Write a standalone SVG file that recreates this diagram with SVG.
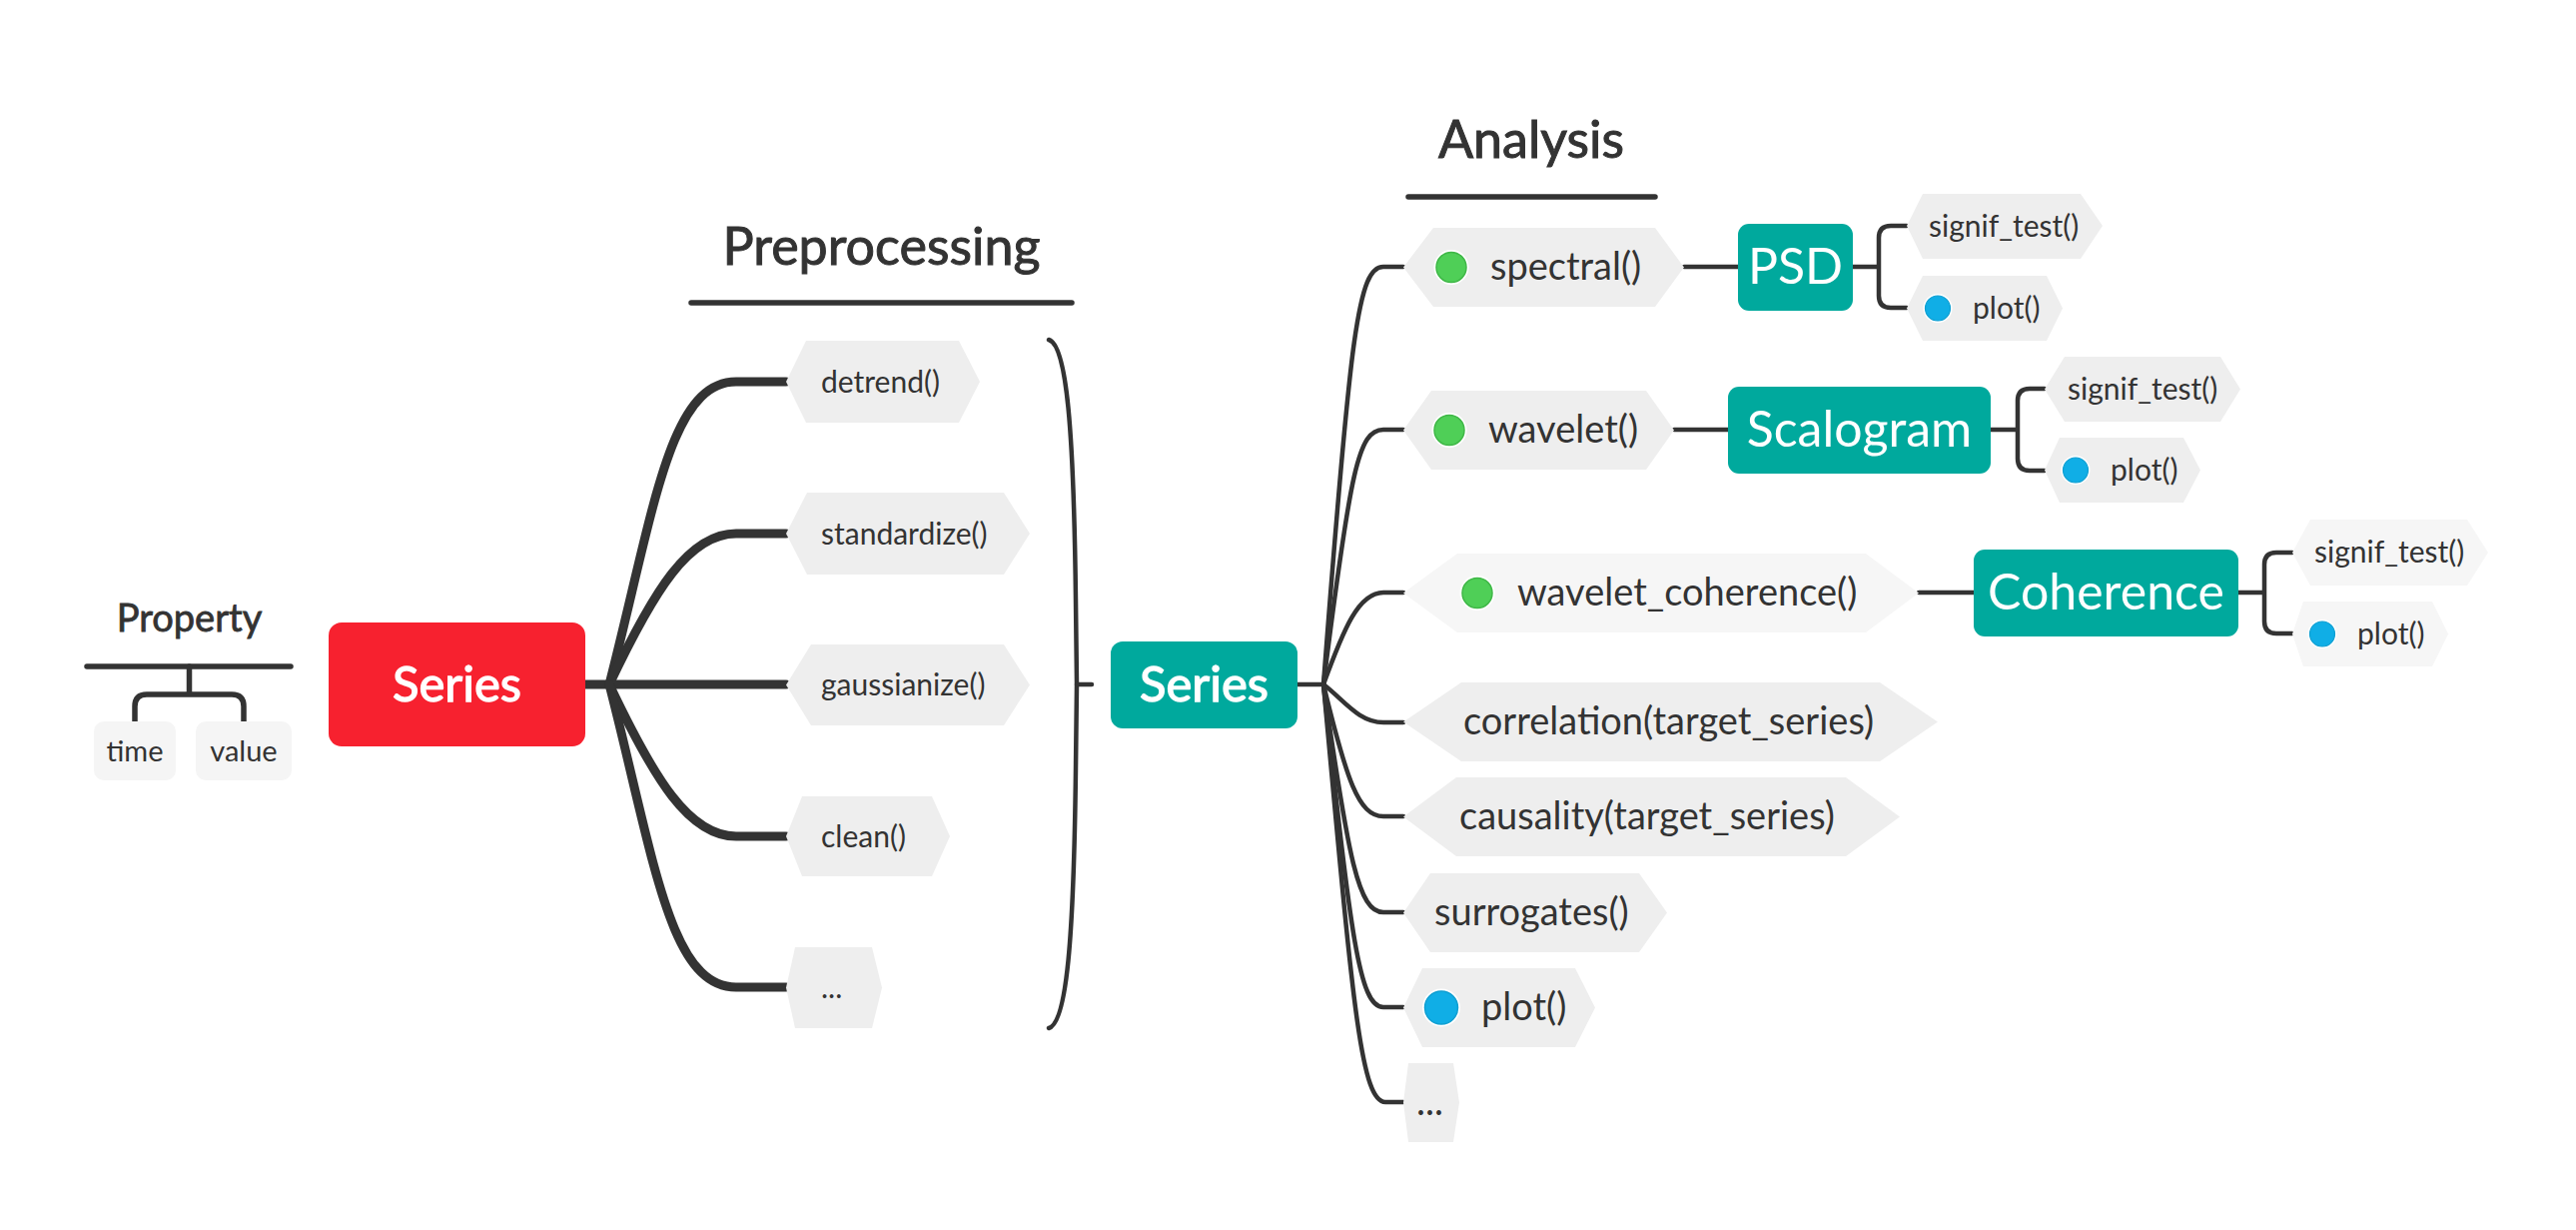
<svg xmlns="http://www.w3.org/2000/svg" width="2579" height="1231" viewBox="0 0 2579 1231">
<defs>
<style>
text{font-family:Lato,"Open Sans","Liberation Sans",sans-serif;fill:#333333;}
.title{font-size:52px;text-anchor:middle;stroke:#333333;stroke-width:1;}
.hex{fill:#eeeeee;}
.hexl{fill:#f6f6f6;}
.pre{font-size:30px;}
.ana{font-size:38px;}
.sub{font-size:30px;}
.box{fill:#00a99d;}
.boxt{font-size:50px;fill:#ffffff;text-anchor:middle;}
.sert{font-size:49px;fill:#ffffff;text-anchor:middle;stroke:#ffffff;stroke-width:1.3;}
.thick{fill:none;stroke:#333333;stroke-width:9;stroke-linecap:round;}
.thin{fill:none;stroke:#333333;stroke-width:4.5;stroke-linecap:round;}
.rule{fill:none;stroke:#333333;stroke-width:5.5;stroke-linecap:round;}
.prop{fill:#f5f5f5;}
</style>
</defs>
<rect width="2579" height="1231" fill="#ffffff"/>

<g id="connectors">
  <path class="rule" d="M87,667 L291,667"/>
  <path class="rule" d="M189.5,667 L189.5,695 M135,722 L135,707 Q135,695 147,695 L232,695 Q244,695 244,707 L244,722"/>
  <path class="thick" d="M586,685 L610,685"/>
  <path class="thick" d="M610,685 C655,510 670,382 737,382 L787,382"/>
  <path class="thick" d="M610,685 C655,590 690,534 737,534 L787,534"/>
  <path class="thick" d="M610,685 L787,685"/>
  <path class="thick" d="M610,685 C655,780 690,837 737,837 L787,837"/>
  <path class="thick" d="M610,685 C655,860 670,988 737,988 L787,988"/>
  <path class="thin" d="M1050,340 C1068,345 1075,430 1077,600 L1078,685 L1077,770 C1075,940 1068,1024 1050,1029"/>
  <path class="thin" d="M1078,685 L1093,685"/>
  <path class="thin" d="M1299,685 L1325,685"/>
  <path class="thin" d="M1325,685 C1352,330 1360,267 1385,267 L1405,267"/>
  <path class="thin" d="M1325,685 C1352,470 1360,430 1385,430 L1405,430"/>
  <path class="thin" d="M1325,685 C1345,630 1360,593 1385,593 L1405,593"/>
  <path class="thin" d="M1325,685 C1345,700 1360,723 1385,723 L1405,723"/>
  <path class="thin" d="M1325,685 C1348,780 1360,817 1385,817 L1405,817"/>
  <path class="thin" d="M1325,685 C1350,860 1360,913 1385,913 L1405,913"/>
  <path class="thin" d="M1325,685 C1352,930 1360,1008 1385,1008 L1405,1008"/>
  <path class="thin" d="M1325,685 C1354,1000 1362,1103 1387,1103 L1405,1103"/>
  <path class="thin" d="M1686,267 L1740,267"/>
  <path class="thin" d="M1676,430 L1730,430"/>
  <path class="thin" d="M1921,593 L1976,593"/>
  <path class="thin" d="M1855,267 L1881,267 M1909,226 L1893,226 Q1881,226 1881,238 L1881,296 Q1881,308 1893,308 L1909,308"/>
  <path class="thin" d="M1993,430 L2020,430 M2047,389 L2032,389 Q2020,389 2020,401 L2020,459 Q2020,471 2032,471 L2047,471"/>
  <path class="thin" d="M2241,593 L2267,593 M2295,553 L2279,553 Q2267,553 2267,565 L2267,622 Q2267,634 2279,634 L2295,634"/>
</g>

<g id="title-property">
  <text x="189.5" y="632" style="font-size:38px;text-anchor:middle;stroke:#333333;stroke-width:0.8">Property</text>
</g>
<g id="node-time">
  <rect class="prop" x="94" y="722" width="82" height="59" rx="10"/>
  <text x="135" y="762" style="font-size:29px;text-anchor:middle">time</text>
</g>
<g id="node-value">
  <rect class="prop" x="196" y="722" width="96" height="59" rx="10"/>
  <text x="244" y="762" style="font-size:29px;text-anchor:middle">value</text>
</g>

<g id="node-series-red">
  <rect x="329" y="623" width="257" height="124" rx="13" fill="#f7212f"/>
  <text class="sert" x="457.5" y="702">Series</text>
</g>

<g id="title-preprocessing">
  <text class="title" x="882.5" y="265">Preprocessing</text>
  <path class="rule" d="M692,303 L1073,303"/>
</g>

<g id="node-detrend">
  <polygon class="hex" points="787,382 807,341 960,341 981,382 960,423 807,423"/>
  <text class="pre" x="822" y="393">detrend()</text>
</g>
<g id="node-standardize">
  <polygon class="hex" points="787,534 808,493 1005,493 1031,534 1005,575 808,575"/>
  <text class="pre" x="822" y="545">standardize()</text>
</g>
<g id="node-gaussianize">
  <polygon class="hex" points="787,685.5 812,645 1005,645 1031,685.5 1005,726 812,726"/>
  <text class="pre" x="822" y="696">gaussianize()</text>
</g>
<g id="node-clean">
  <polygon class="hex" points="787,837 803,797 933,797 951,837 933,877 803,877"/>
  <text class="pre" x="822" y="848">clean()</text>
</g>
<g id="node-pre-more">
  <polygon class="hex" points="787,988.5 796,948 873,948 883,988.5 873,1029 796,1029"/>
  <text class="pre" x="822" y="999">...</text>
</g>

<g id="node-series-teal">
  <rect class="box" x="1112" y="642" width="187" height="87" rx="12"/>
  <text class="sert" x="1205.5" y="702">Series</text>
</g>

<g id="title-analysis">
  <text class="title" x="1533" y="158">Analysis</text>
  <path class="rule" d="M1410,197 L1657,197"/>
</g>

<g id="node-spectral">
  <polygon class="hex" points="1405,267.5 1435,228 1657,228 1686,267.5 1657,307 1435,307"/>
  <circle cx="1453" cy="267.5" r="17.5" fill="#ffffff"/>
  <circle cx="1453" cy="267.5" r="15" fill="#4fcf57" stroke="#3fb847" stroke-width="1.5"/>
  <text class="ana" x="1492" y="280">spectral()</text>
</g>
<g id="node-psd">
  <rect class="box" x="1740" y="224" width="115" height="87" rx="11"/>
  <text class="boxt" x="1797.5" y="284">PSD</text>
</g>
<g id="node-psd-signif">
  <polygon class="hex" points="1909,226 1925,194 2083,194 2105,226 2083,259 1925,259"/>
  <text class="sub" x="1931" y="237">signif_test()</text>
</g>
<g id="node-psd-plot">
  <polygon class="hex" points="1909,308.5 1925,276 2049,276 2065,308.5 2049,341 1925,341"/>
  <circle cx="1940" cy="308.5" r="14.5" fill="#ffffff"/>
  <circle cx="1940" cy="308.5" r="12.5" fill="#10aee6" stroke="#0f9fd2" stroke-width="1.2"/>
  <text class="sub" x="1975" y="319">plot()</text>
</g>

<g id="node-wavelet">
  <polygon class="hex" points="1405,430.5 1433,391 1648,391 1676,430.5 1648,470 1433,470"/>
  <circle cx="1451" cy="430.5" r="17.5" fill="#ffffff"/>
  <circle cx="1451" cy="430.5" r="15" fill="#4fcf57" stroke="#3fb847" stroke-width="1.5"/>
  <text class="ana" x="1490" y="443">wavelet()</text>
</g>
<g id="node-scalogram">
  <rect class="box" x="1730" y="387" width="263" height="87" rx="11"/>
  <text class="boxt" x="1861.5" y="447">Scalogram</text>
</g>
<g id="node-scal-signif">
  <polygon class="hex" points="2047,389.5 2067,357 2223,357 2243,389.5 2223,422 2067,422"/>
  <text class="sub" x="2070" y="400">signif_test()</text>
</g>
<g id="node-scal-plot">
  <polygon class="hex" points="2047,470.5 2062,438 2186,438 2203,470.5 2186,503 2062,503"/>
  <circle cx="2078" cy="470.5" r="14.5" fill="#ffffff"/>
  <circle cx="2078" cy="470.5" r="12.5" fill="#10aee6" stroke="#0f9fd2" stroke-width="1.2"/>
  <text class="sub" x="2113" y="481">plot()</text>
</g>

<g id="node-wavelet-coherence">
  <polygon class="hexl" points="1405,593.5 1459,554 1868,554 1921,593.5 1868,633 1459,633"/>
  <circle cx="1479" cy="593.5" r="17.5" fill="#ffffff"/>
  <circle cx="1479" cy="593.5" r="15" fill="#4fcf57" stroke="#3fb847" stroke-width="1.5"/>
  <text class="ana" x="1519" y="606">wavelet_coherence()</text>
</g>
<g id="node-coherence">
  <rect class="box" x="1976" y="550" width="265" height="87" rx="11"/>
  <text class="boxt" x="2108.5" y="610">Coherence</text>
</g>
<g id="node-coh-signif">
  <polygon class="hexl" points="2295,553 2313,520 2470,520 2491,553 2470,586 2313,586"/>
  <text class="sub" x="2317" y="563">signif_test()</text>
</g>
<g id="node-coh-plot">
  <polygon class="hexl" points="2295,634.5 2306,602 2435,602 2451,634.5 2435,667 2306,667"/>
  <circle cx="2325" cy="634.5" r="14.5" fill="#ffffff"/>
  <circle cx="2325" cy="634.5" r="12.5" fill="#10aee6" stroke="#0f9fd2" stroke-width="1.2"/>
  <text class="sub" x="2360" y="645">plot()</text>
</g>

<g id="node-correlation">
  <polygon class="hex" points="1405,722.5 1463,683 1882,683 1940,722.5 1882,762 1463,762"/>
  <text class="ana" x="1465" y="735">correlation(target_series)</text>
</g>
<g id="node-causality">
  <polygon class="hex" points="1405,817.5 1458,778 1848,778 1902,817.5 1848,857 1458,857"/>
  <text class="ana" x="1461" y="830">causality(target_series)</text>
</g>
<g id="node-surrogates">
  <polygon class="hex" points="1405,913.5 1432,874 1641,874 1669,913.5 1641,953 1432,953"/>
  <text class="ana" x="1436" y="926">surrogates()</text>
</g>
<g id="node-plot">
  <polygon class="hex" points="1405,1008.5 1424,969 1577,969 1597,1008.5 1577,1048 1424,1048"/>
  <circle cx="1443" cy="1008.5" r="19" fill="#ffffff"/>
  <circle cx="1443" cy="1008.5" r="16.5" fill="#10aee6" stroke="#0f9fd2" stroke-width="1.5"/>
  <text class="ana" x="1483" y="1021">plot()</text>
</g>
<g id="node-ana-more">
  <polygon class="hex" points="1405,1103.5 1410,1064 1455,1064 1461,1103.5 1455,1143 1410,1143"/>
  <text class="ana" x="1418" y="1116">...</text>
</g>
</svg>
